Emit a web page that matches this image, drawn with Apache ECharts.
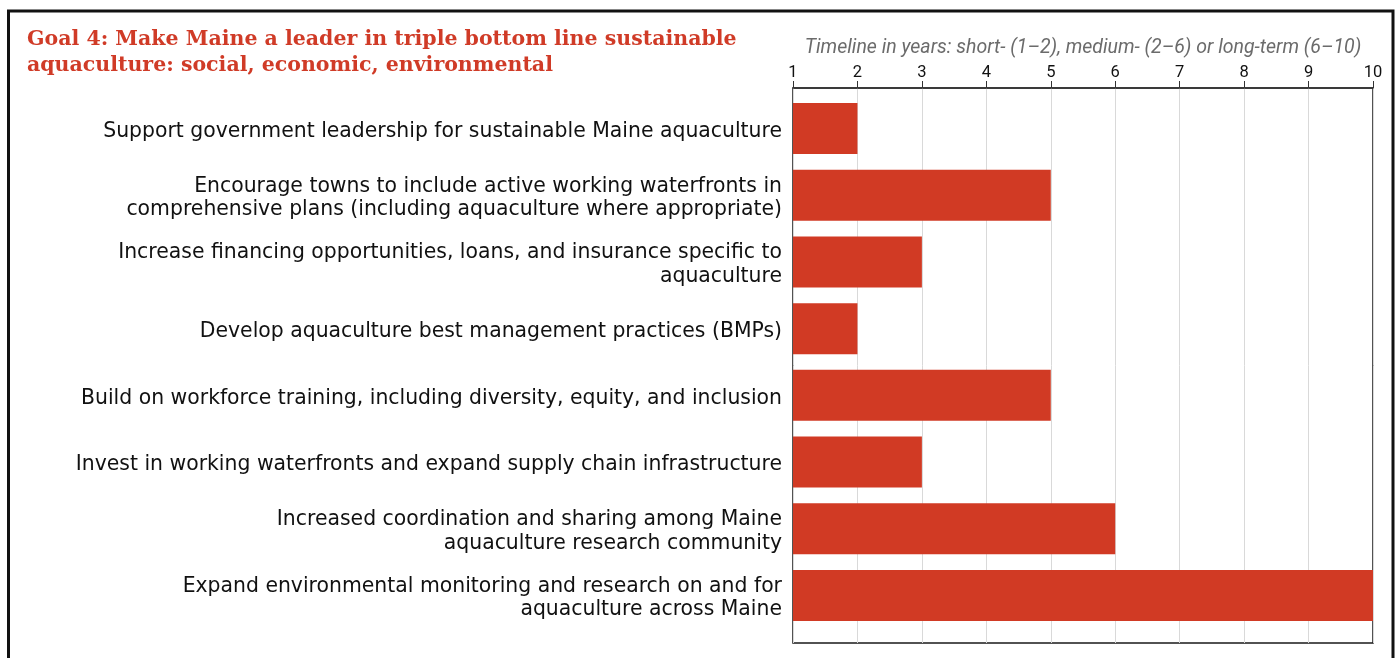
<!DOCTYPE html>
<html>
<head>
<meta charset="utf-8">
<script src="https://cdn.jsdelivr.net/npm/echarts@6/dist/echarts.min.js"></script>
<style>
html,body{margin:0;padding:0;background:#fff;}
#chart{width:1398px;height:658px;}
</style>
</head>
<body>
<div id="chart"></div>
<script>
const titleText = 'Goal 4: Make Maine a leader in triple bottom line sustainable\naquaculture: social, economic, environmental';
const axisTitle = 'Timeline in years: short- (1\u20132), medium- (2\u20136) or long-term (6\u201310)';
const categories = [
  'Support government leadership for sustainable Maine aquaculture',
  'Encourage towns to include active working waterfronts in\ncomprehensive plans (including aquaculture where appropriate)',
  'Increase financing opportunities, loans, and insurance specific to\naquaculture',
  'Develop aquaculture best management practices (BMPs)',
  'Build on workforce training, including diversity, equity, and inclusion',
  'Invest in working waterfronts and expand supply chain infrastructure',
  'Increased coordination and sharing among Maine\naquaculture research community',
  'Expand environmental monitoring and research on and for\naquaculture across Maine'
];
const values = [2, 5, 3, 2, 5, 3, 6, 10];
const axisMin = 1;
const axisMax = 10;

const chart = echarts.init(document.getElementById('chart'), null, {renderer: 'canvas'});
const option = {
  animation: false,
  backgroundColor: '#fff',
  graphic: [{
    type: 'rect', silent: true, z: 100,
    shape: {x: 8.5, y: 11, width: 1384.5, height: 700},
    style: {fill: 'none', stroke: '#111', lineWidth: 3}
  }],
  title: {
    text: titleText,
    left: 27, top: 27, padding: 0,
    textStyle: {
      color: '#d03b27',
      fontFamily: '"DejaVu Serif", serif',
      fontWeight: 'bold',
      fontSize: 20.5,
      lineHeight: 25.5
    }
  },
  grid: [
    {left: 793, right: 25, top: 95.2, bottom: 29.2},
    {left: 793, right: 25, top: 88, bottom: 15, show: true, borderColor: '#1a1a1a', borderWidth: 1.5, backgroundColor: 'transparent'},
    {left: 793, right: 25, top: 98.2, bottom: 26.2}
  ],
  xAxis: [
    {gridIndex: 0, type: 'value', min: axisMin, max: axisMax, show: false},
    {
      gridIndex: 1, type: 'value', min: axisMin, max: axisMax, interval: 1, position: 'top',
      axisLine: {show: true, onZero: false, lineStyle: {color: '#333', width: 1.5}},
      axisTick: {show: true, length: 7, lineStyle: {color: '#333'}},
      axisLabel: {color: '#111', fontSize: 16.5, margin: 7, fontFamily: 'Roboto, sans-serif'},
      splitLine: {show: true, lineStyle: {color: '#d9d9d9', width: 1}},
      name: axisTitle, nameLocation: 'middle', nameGap: 30,
      nameTextStyle: {color: '#6b6b6b', fontStyle: 'italic', fontSize: 19.5, fontFamily: 'Roboto, sans-serif'}
    },
    {gridIndex: 2, type: 'value', min: axisMin, max: axisMax, show: false}
  ],
  yAxis: [
    {gridIndex: 0, type: 'category', data: categories, inverse: true, show: false},
    {gridIndex: 1, type: 'value', min: 0, max: 1, show: false},
    {
      gridIndex: 2, type: 'category', data: categories, inverse: true,
      axisLine: {show: false}, axisTick: {show: false}, splitLine: {show: false},
      axisLabel: {color: '#111', fontSize: 20.4, lineHeight: 23.5, margin: 11, fontFamily: '"DejaVu Sans", sans-serif', align: 'right'}
    }
  ],
  series: [{
    type: 'bar', xAxisIndex: 0, yAxisIndex: 0,
    data: values, barWidth: 51, clip: true,
    itemStyle: {color: '#d13a24'}
  }]
};
chart.setOption(option);
</script>
</body>
</html>
